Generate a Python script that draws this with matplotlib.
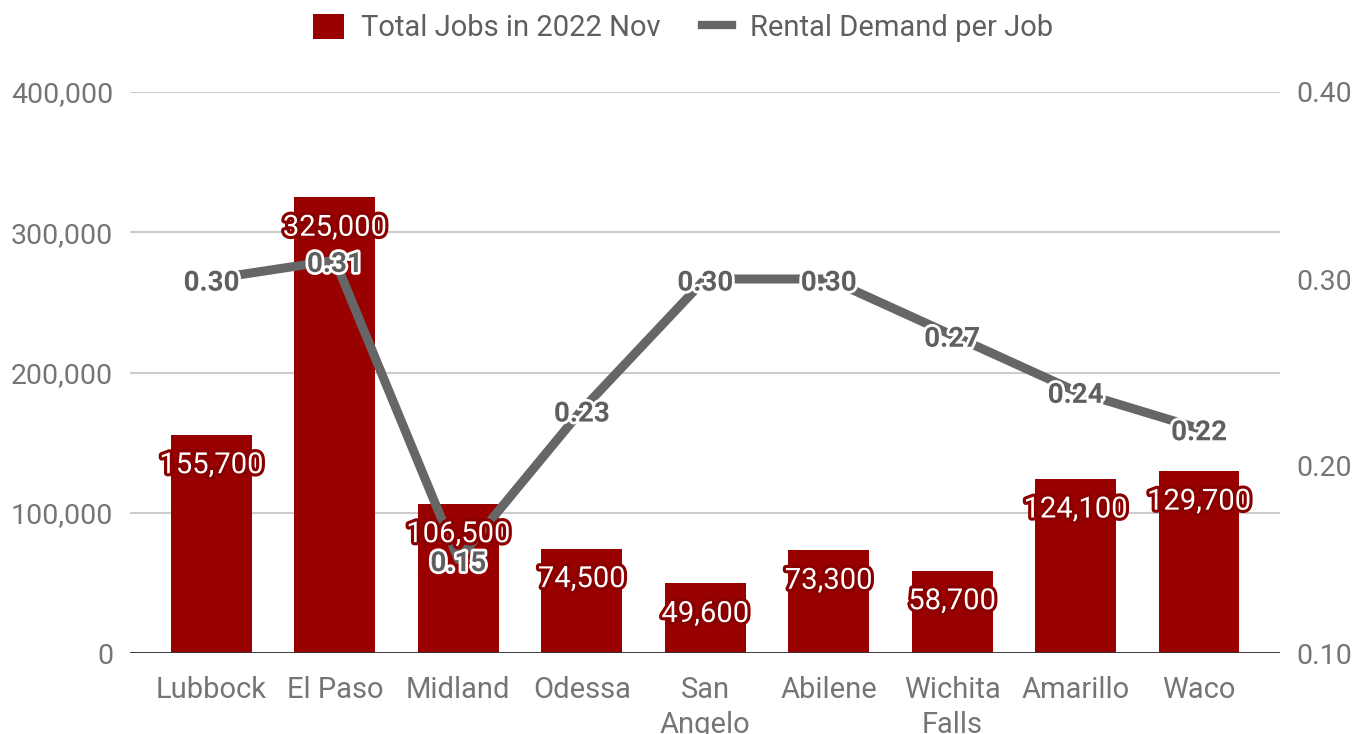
import matplotlib
matplotlib.use("Agg")
import matplotlib.pyplot as plt
import matplotlib.patheffects as pe
from matplotlib.patches import Patch
from matplotlib.lines import Line2D

plt.rcParams['font.family'] = ['Roboto', 'DejaVu Sans']

cities = ["Lubbock", "El Paso", "Midland", "Odessa", "San\nAngelo",
          "Abilene", "Wichita\nFalls", "Amarillo", "Waco"]
total_jobs = [155700, 325000, 106500, 74500, 49600, 73300, 58700, 124100, 129700]
demand_per_job = [0.30, 0.31, 0.15, 0.23, 0.30, 0.30, 0.27, 0.24, 0.22]
left_ticks = [0, 100000, 200000, 300000, 400000]
right_ticks = [0.10, 0.20, 0.30, 0.40]

BAR = "#990000"
LINE = "#666666"
TICK = "#757575"

fig = plt.figure(figsize=(13.66, 7.34), dpi=100)
ax = fig.add_axes([130 / 1366, 1 - 653 / 734, 1150 / 1366, 561 / 734])
ax2 = ax.twinx()

x = list(range(len(cities)))
ax.bar(x, total_jobs, width=0.655, color=BAR, zorder=2)
ax.set_xlim(-0.66, 8.656)
ax.set_ylim(0, 400000)
ax.set_yticks(left_ticks)
ax.set_yticklabels([f"{v:,}" for v in left_ticks])
ax.set_xticks(x)
ax.set_xticklabels(cities, linespacing=1.32)
ax.grid(axis="y", color="#cccccc", linewidth=1.5, zorder=0)
ax.set_axisbelow(True)
for s in ax.spines.values():
    s.set_visible(False)
ax.axhline(0, color="#333333", linewidth=2, zorder=3)
ax.tick_params(axis="y", length=0, labelsize=20.5, labelcolor=TICK, pad=12)
ax.tick_params(axis="x", length=0, labelsize=21, labelcolor=TICK, pad=16.5)

ax2.plot(x, demand_per_job, color=LINE, linewidth=6.5, solid_capstyle="butt", zorder=2)
ax2.set_ylim(0.10, 0.40)
ax2.set_yticks(right_ticks)
ax2.set_yticklabels([f"{v:.2f}" for v in right_ticks])
ax2.tick_params(axis="y", length=0, labelsize=20.5, labelcolor=TICK, pad=12)
for s in ax2.spines.values():
    s.set_visible(False)

# value labels on the line
for xi, v in zip(x, demand_per_job):
    ax2.annotate(f"{v:.2f}", xy=(xi, v), xytext=(0, -3), textcoords="offset points",
                 ha="center", va="center", fontsize=20, fontweight="bold",
                 color="#5f5f5f", zorder=5,
                 path_effects=[pe.Stroke(linewidth=4, foreground="white"), pe.Normal()])

# value labels inside the bar tops
for xi, v in zip(x, total_jobs):
    ax2.annotate(f"{v:,}", xy=(xi, v), xycoords=ax.transData,
                 xytext=(0, -22), textcoords="offset points",
                 ha="center", va="center", fontsize=21, color="white", zorder=6,
                 path_effects=[pe.Stroke(linewidth=4.5, foreground="#8a0000"), pe.Normal()])

handles = [Patch(facecolor=BAR, edgecolor="none"),
           Line2D([0], [0], color=LINE, linewidth=6)]
fig.legend(handles, ["Total Jobs in 2022 Nov", "Rental Demand per Job"],
           loc="center", bbox_to_anchor=(0.5, 1 - 28 / 734), ncol=2, frameon=False,
           fontsize=21, labelcolor="#5f5f5f", handlelength=1.05, handleheight=0.95,
           handletextpad=0.6, columnspacing=1.4)

fig.savefig("out.png", dpi=100)
